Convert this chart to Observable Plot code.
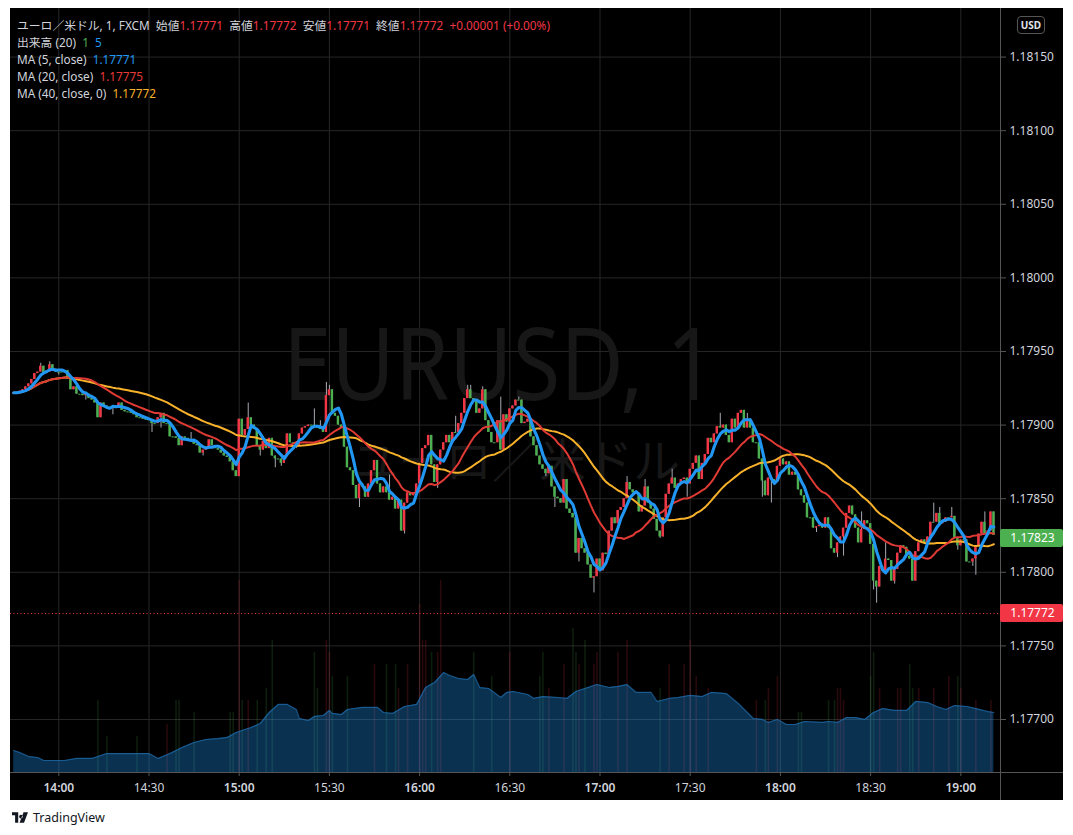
<!DOCTYPE html>
<html><head><meta charset="utf-8">
<script src="https://cdn.jsdelivr.net/npm/d3@7"></script>
<script src="https://cdn.jsdelivr.net/npm/@observablehq/plot@0.6"></script>
<style>
html,body{margin:0;padding:0;background:#fff;}
body{width:1073px;height:835px;position:relative;overflow:hidden;font-family:"Noto Sans","Noto Sans CJK JP",sans-serif;}
#chart{position:absolute;left:10px;top:8px;width:1053px;height:792px;background:#000;}
#chart svg{position:absolute;left:0;top:0;}
#legend{position:absolute;left:17px;top:17px;font-size:11.8px;line-height:17px;color:#d1d4dc;white-space:pre;}
#usd{position:absolute;left:1017px;top:16px;width:26px;height:16px;border:1px solid #555;border-radius:4px;color:#e0e3eb;font-size:10px;font-weight:700;line-height:16px;text-align:center;}
#brand{position:absolute;left:12px;top:809px;height:16px;display:flex;align-items:center;gap:5px;color:#131722;font-size:12.5px;}
</style></head>
<body>
<div id="chart"></div>
<div id="legend"></div>
<div id="usd">USD</div>
<div id="brand"><svg width="16" height="11" viewBox="0 0 36 24"><path d="M0 0h14v24H7V7H0z M20 6a4 4 0 1 0 0.01 0z M26 0h10l-9 24h-10z" fill="#131722"/></svg><span>TradingView</span></div>
<script>
// ---------- data ----------
const BASE = 1.177;                         // offsets are in 0.00001 above this
const START = Date.UTC(2021, 7, 20, 13, 45); // first 1-minute bar
const firstOpen = 221;
const closeOffsets = [
222,222,223,224,226,228,231,235,236,240,235,236,241,238,236,236,236,237,231,224,
226,221,221,220,221,218,217,215,205,215,213,212,212,212,213,215,210,209,209,208,
207,205,205,204,204,203,201,201,205,208,201,201,192,192,191,186,192,191,190,189,
187,186,181,183,185,190,186,184,183,181,179,178,175,169,165,204,193,197,205,200,
197,186,183,189,184,191,179,177,177,174,179,194,188,187,186,194,198,199,200,200,
199,198,197,195,220,224,208,206,200,198,185,171,169,159,150,160,158,151,160,169,
176,160,154,158,154,149,151,143,149,128,147,154,152,154,160,174,184,186,193,173,
161,173,183,188,193,188,195,195,201,208,218,224,218,217,208,211,224,203,195,188,
188,203,183,207,202,211,213,217,217,201,202,204,192,186,179,173,170,167,172,158,
151,150,147,163,143,140,137,113,123,116,113,105,96,97,109,101,113,112,128,137,
133,142,144,150,161,156,154,153,141,145,158,147,143,136,128,124,137,153,160,164,
157,160,163,164,160,170,174,179,163,174,180,191,188,194,199,198,200,193,188,204,
198,208,210,198,204,198,188,188,177,162,152,164,163,161,172,177,173,175,166,168,
166,156,152,147,137,137,130,131,132,130,137,130,116,113,120,124,130,140,145,139,
130,120,129,135,133,119,94,90,104,101,109,108,94,102,113,118,117,111,109,94,
114,120,122,120,124,134,134,140,133,134,137,137,138,123,118,122,122,107,107,109,
118,126,134,126,128,141,125];
const highWicks = [[9,242],[12,243],[59,195],[78,215],[100,211],[102,203],[104,229],[105,227],[125,166],[147,206],[151,227],[152,227],[156,226],[162,219],[168,219],[204,165],[210,163],[219,170],[235,208],[244,208],[282,141],[290,120],[306,147],[308,144],[312,144],[323,141]];
const lowWicks = [[15,234],[24,217],[33,207],[46,195],[49,198],[63,179],[82,179],[87,171],[89,172],[94,184],[115,144],[130,126],[141,157],[163,183],[177,165],[180,144],[188,107],[193,86],[215,123],[224,151],[249,151],[252,147],[267,127],[274,110],[276,111],[286,88],[287,79],[293,92],[314,115],[319,104],[320,98]];
const volumeBars = [[28,6],[31,3],[41,3],[51,4],[54,6],[55,6],[60,5],[72,5],[73,5],[75,16],[76,6],[78,6],[81,6],[84,7],[86,11],[100,10],[101,7],[104,11],[105,10],[106,8],[111,8],[120,9],[124,9],[127,9],[128,7],[131,9],[135,14],[136,11],[137,11],[139,10],[141,10],[142,16],[153,10],[159,8],[165,10],[175,8],[176,10],[178,7],[183,9],[186,12],[187,10],[188,9],[190,11],[193,9],[194,10],[201,10],[204,11],[215,7],[218,9],[223,9],[225,11],[227,8],[231,7],[247,6],[250,6],[251,7],[254,8],[261,5],[262,5],[271,6],[273,6],[274,7],[275,7],[276,6],[285,8],[286,10],[288,7],[294,7],[295,7],[298,9],[299,7],[301,7],[306,7],[311,8],[314,8],[315,7],[320,6],[325,6]];
const volumeMA20 = [[0,1.83],[2,1.67],[5,1.33],[8,1.25],[10,1.0],[17,1.0],[21,1.17],[26,1.17],[28,1.33],[31,1.58],[35,1.58],[40,1.58],[45,1.58],[48,1.17],[52,1.58],[56,2.08],[60,2.5],[64,2.75],[68,2.83],[71,2.92],[74,3.33],[79,3.75],[82,4.08],[85,5.0],[88,5.67],[91,5.67],[94,5.25],[95,4.5],[98,4.33],[100,4.67],[103,4.75],[105,5.17],[106,4.92],[109,4.83],[111,5.25],[116,5.42],[121,5.42],[123,5.0],[126,4.92],[130,5.5],[134,5.67],[137,7.08],[140,7.5],[143,8.33],[145,8.08],[148,7.83],[151,7.75],[153,8.17],[155,7.08],[158,7.0],[162,6.25],[164,6.67],[166,6.75],[171,6.5],[173,6.17],[176,6.33],[181,6.25],[184,6.17],[187,6.75],[190,7.0],[194,7.33],[198,7.08],[201,7.17],[204,7.33],[207,6.67],[212,6.67],[214,5.92],[218,6.17],[221,6.25],[225,6.42],[229,6.33],[232,6.67],[237,6.58],[241,5.75],[246,4.5],[249,4.42],[251,4.17],[254,4.42],[257,4.0],[260,4.0],[263,4.25],[269,4.17],[271,4.25],[274,4.17],[277,4.58],[280,4.58],[283,4.42],[286,5.0],[289,5.33],[293,5.17],[297,5.17],[300,5.92],[304,5.83],[307,5.5],[310,5.25],[313,5.58],[317,5.5],[320,5.33],[324,5.08],[326,5.0]];
const priceTicks = [1.177, 1.1775, 1.178, 1.1785, 1.179, 1.1795, 1.18, 1.1805, 1.181, 1.1815];
const timeTickLabels = ["14:00","14:30","15:00","15:30","16:00","16:30","17:00","17:30","18:00","18:30","19:00"];
const lastClose = 1.17823, refPrice = 1.17772;
const legendTitle = "ユーロ／米ドル, 1, FXCM";
const legendOHLC = [["始値","1.17771"],["高値","1.17772"],["安値","1.17771"],["終値","1.17772"]];
const legendChange = "+0.00001 (+0.00%)";
const legendVolume = ["出来高 (20)", "1", "5"];
const legendMAs = [["MA (5, close)","1.17771","#2196f3"],["MA (20, close)","1.17775","#e53935"],["MA (40, close, 0)","1.17772","#f7b12a"]];
const watermark = ["EURUSD, 1", "ユーロ／米ドル"];

// ---------- styles ----------
const UP = "#f23645", DN = "#4caf50", WICK = "#a7aab3";
const GRID = "#262626", AXIS = "#555", TXT = "#d1d4dc";

// ---------- legend ----------
const lg = document.getElementById("legend");
const red = s => `<span style="color:${UP}">${s}</span>`;
lg.innerHTML =
  `<div>${legendTitle}  ${legendOHLC.map(([k,v]) => k + red(v)).join("  ")}  ${red(legendChange)}</div>` +
  `<div>${legendVolume[0]}  <span style="color:${DN}">${legendVolume[1]}</span>  <span style="color:#2196f3">${legendVolume[2]}</span></div>` +
  legendMAs.map(([n,v,c]) => `<div>${n}  <span style="color:${c}">${v}</span></div>`).join("");

// ---------- derived ----------
const P = u => BASE + u / 1e5;
const T = k => new Date(START + k * 60000);
const hi = new Map(highWicks), lo = new Map(lowWicks);
const bars = closeOffsets.map((c, k) => {
  const o = k ? closeOffsets[k - 1] : firstOpen;
  const h = Math.max(o, c, hi.has(k) ? hi.get(k) : -1e9);
  const l = Math.min(o, c, lo.has(k) ? lo.get(k) : 1e9);
  return {t: T(k), open: P(o), close: P(c), high: P(h), low: P(l), up: c >= o};
});
const sma = n => bars.map((d, i) => d3.mean(bars.slice(Math.max(0, i - n + 1), i + 1), b => b.close));
const m5 = sma(5), m20 = sma(20), m40 = sma(40);
bars.forEach((d, i) => { d.ma5 = m5[i]; d.ma20 = m20[i]; d.ma40 = m40[i]; });

const Y0 = 1.17664, Y1 = 1.18183, H = 764;
const pricePerPx = (Y1 - Y0) / H;
const volToPrice = v => Y0 + v * 12 * pricePerPx;
const kMin = -1.064, kMax = 328.2;
const tAt = px => T(kMin + px / 990 * (kMax - kMin));
const yBelow = Y0 - 28 * pricePerPx;

const bySide = new Map(bars.map((d, i) => [i, d.up]));
const vbars = volumeBars.map(([k, v]) => ({t: T(k), v, c: bySide.get(k) ? "rgba(242,54,69,0.17)" : "rgba(76,175,80,0.17)"}));
const vma = volumeMA20.map(([k, v]) => ({t: T(k), p: volToPrice(v)}));
const ticks = timeTickLabels.map(s => { const [h, m] = s.split(":").map(Number); return new Date(Date.UTC(2021, 7, 20, h, m)); });
const hourTicks = ticks.filter(d => d.getUTCMinutes() === 0);
const halfTicks = ticks.filter(d => d.getUTCMinutes() !== 0);
const fmt = d3.utcFormat("%H:%M");
const labels = [{p: lastClose, c: DN}, {p: refPrice, c: UP}];
const halfW = 24000;

const plot = Plot.plot({
  width: 1053, height: 792,
  marginLeft: 0, marginRight: 63, marginTop: 0, marginBottom: 28,
  style: {background: "transparent", color: TXT, fontFamily: "'Noto Sans','Noto Sans CJK JP',sans-serif"},
  x: {type: "utc", domain: [T(kMin), T(kMax)]},
  y: {domain: [Y0, Y1]},
  color: {type: "identity"},
  marks: [
    Plot.gridY(priceTicks, {stroke: GRID, strokeOpacity: 1}),
    Plot.gridX(ticks, {stroke: GRID, strokeOpacity: 1}),
    Plot.text([watermark[0]], {text: d => d, frameAnchor: "top", dx: -6, dy: 320, fontSize: 101, fill: "#171717"}),
    Plot.text([watermark[1]], {text: d => d, frameAnchor: "top", dx: 10, dy: 436, fontSize: 47, fill: "#171717"}),
    Plot.ruleX(vbars, {x: "t", y1: Y0, y2: d => volToPrice(d.v), stroke: "c", strokeWidth: 1.6}),
    Plot.areaY(vma, {x: "t", y1: Y0, y2: "p", fill: "#2196f3", fillOpacity: 0.33}),
    Plot.lineY(vma, {x: "t", y: "p", stroke: "#1f6fb0", strokeWidth: 1.2, strokeOpacity: 0.7}),
    Plot.ruleY([refPrice], {x1: T(kMin), x2: tAt(990), stroke: UP, strokeDasharray: "1,2.5", strokeWidth: 1}),
    Plot.ruleX(bars, {x: "t", y1: "low", y2: "high", stroke: WICK, strokeWidth: 1}),
    Plot.rect(bars, {x1: d => new Date(+d.t - halfW), x2: d => new Date(+d.t + halfW), y1: "open", y2: "close", fill: d => d.up ? UP : DN}),
    Plot.ruleY(bars.filter(d => d.open === d.close), {x1: d => new Date(+d.t - halfW), x2: d => new Date(+d.t + halfW), y: "close", stroke: DN}),
    Plot.line(bars, {x: "t", y: "ma40", stroke: "#f7b12a", strokeWidth: 2}),
    Plot.line(bars, {x: "t", y: "ma20", stroke: "#e03a34", strokeWidth: 2}),
    Plot.line(bars, {x: "t", y: "ma5", stroke: "#2196f3", strokeWidth: 3.1, strokeLinejoin: "round"}),
    Plot.ruleY([Y0], {x1: T(kMin), x2: tAt(1053), stroke: AXIS}),
    Plot.ruleX([tAt(990)], {y1: yBelow, y2: Y1, stroke: AXIS}),
    Plot.axisY(priceTicks, {anchor: "right", tickFormat: d => d.toFixed(5), tickSize: 5, tickPadding: 4, stroke: AXIS, fill: TXT, fontSize: 12, label: null}),
    Plot.axisX(hourTicks, {anchor: "bottom", tickFormat: fmt, tickSize: 4, tickPadding: 7, stroke: AXIS, fill: TXT, fontSize: 12, fontWeight: 600, label: null}),
    Plot.axisX(halfTicks, {anchor: "bottom", tickFormat: fmt, tickSize: 4, tickPadding: 7, stroke: AXIS, fill: TXT, fontSize: 12, label: null}),
    Plot.rect(labels, {x1: tAt(990), x2: tAt(1053), y1: d => d.p - 9 * pricePerPx, y2: d => d.p + 9 * pricePerPx, fill: "c", rx: 2}),
    Plot.text(labels, {x: tAt(1022), y: "p", text: d => d.p.toFixed(5), fill: "#fff", fontSize: 12})
  ]
});
document.getElementById("chart").appendChild(plot);
// fit watermark width
plot.querySelectorAll("text").forEach(t => {
  if (t.textContent === watermark[0]) { t.setAttribute("textLength", 433); t.setAttribute("lengthAdjust", "spacingAndGlyphs"); }
});
</script>
</body></html>
